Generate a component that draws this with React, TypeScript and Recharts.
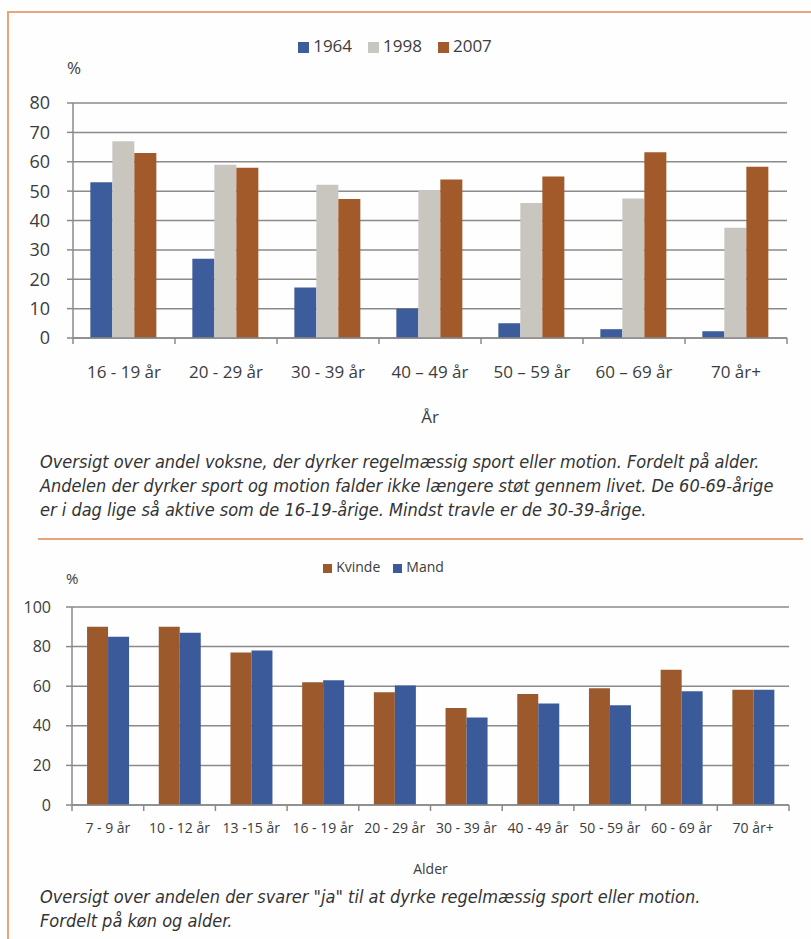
import React from "react";
import { BarChart, Bar, XAxis, YAxis, CartesianGrid, Legend } from "recharts";

// --- top chart: share of adults doing sport, by age and year
const ageGroups = ["16 - 19 år", "20 - 29 år", "30 - 39 år", "40 – 49 år", "50 – 59 år", "60 – 69 år", "70 år+"];
const values1964 = [53, 27, 17.2, 10, 5, 3, 2.3];
const values1998 = [67, 59, 52.2, 50.2, 46, 47.5, 37.5];
const values2007 = [63, 58, 47.3, 54, 55, 63.2, 58.3];
const topTicks = [0, 10, 20, 30, 40, 50, 60, 70, 80];

// --- bottom chart: answered "ja", by gender and age
const ageGroupsKids = ["7 - 9 år", "10 - 12 år", "13 -15 år", "16 - 19 år", "20 - 29 år", "30 - 39 år", "40 - 49 år", "50 - 59 år", "60 - 69 år", "70 år+"];
const kvinde = [90, 90, 77, 62, 57, 49, 56, 59, 68.3, 58.2];
const mand = [85, 87, 78, 63, 60.4, 44.2, 51.2, 50.4, 57.4, 58.2];
const bottomTicks = [0, 20, 40, 60, 80, 100];

const topData = ageGroups.map((name, i) => ({
  name,
  "1964": values1964[i],
  "1998": values1998[i],
  "2007": values2007[i],
}));

const bottomData = ageGroupsKids.map((name, i) => ({
  name,
  Kvinde: kvinde[i],
  Mand: mand[i],
}));

const AXIS = "#8a8a8a";
const TEXT = "#3c3c3c";
const FONT = "'Open Sans', 'Noto Sans', sans-serif";
const CAPTION_FONT = "'Liberation Sans Narrow', 'DejaVu Sans Condensed', 'DejaVu Sans', sans-serif";

// category tick: label in the middle, little tick marks on the band edges (Excel style)
function makeEdgeTick(fontSize: number, margin: number) {
  return function EdgeTick(props: any) {
    const { x, y, width, visibleTicksCount, index, payload } = props;
    const bw = width / visibleTicksCount;
    const axisY = y - margin;
    return (
      <g>
        <line x1={x - bw / 2} x2={x - bw / 2} y1={axisY} y2={axisY + 6} stroke={AXIS} strokeWidth={1.5} />
        {index === visibleTicksCount - 1 && (
          <line x1={x + bw / 2} x2={x + bw / 2} y1={axisY} y2={axisY + 6} stroke={AXIS} strokeWidth={1.5} />
        )}
        <text x={x} y={y} dy="0.71em" textAnchor="middle" fill={TEXT} fontSize={fontSize} fontFamily={FONT}>
          {payload.value}
        </text>
      </g>
    );
  };
}

const TopTick = makeEdgeTick(17, 28);
const BottomTick = makeEdgeTick(14, 18);

const topLegendText = (value: string) => <span style={{ color: TEXT, marginRight: 6 }}>{value}</span>;
const bottomLegendText = (value: string) => <span style={{ color: TEXT, marginRight: 3 }}>{value}</span>;

const captionStyle: React.CSSProperties = {
  position: "absolute",
  left: 40,
  fontFamily: CAPTION_FONT,
  fontStyle: "italic",
  fontSize: 18,
  lineHeight: "24px",
  color: "#333",
  whiteSpace: "nowrap",
};

export default function App() {
  return (
    <div style={{ position: "absolute", left: 0, top: 0, width: 811, height: 939, background: "#fefefe", overflow: "hidden" }}>
      {/* orange frame of the page */}
      <div style={{ position: "absolute", left: 8, top: 11, width: 803, height: 2, background: "#e8a57c" }} />
      <div style={{ position: "absolute", left: 7, top: 11, width: 2, height: 928, background: "#e8a57c" }} />
      <div style={{ position: "absolute", left: 38, top: 538, width: 765, height: 2, background: "#e8a57c" }} />

      {/* top chart */}
      <div style={{ position: "absolute", left: 67, top: 56, fontFamily: FONT, fontSize: 17, color: TEXT }}>%</div>
      <div style={{ position: "absolute", left: 0, top: 0 }}>
        <BarChart
          width={811}
          height={430}
          data={topData}
          margin={{ top: 103, right: 24, left: 0, bottom: 12 }}
          barCategoryGap="17%"
          barGap={0}
        >
          <CartesianGrid vertical={false} stroke={AXIS} strokeWidth={1.5} />
          <XAxis
            dataKey="name"
            interval={0}
            height={80}
            tickSize={0}
            tickMargin={28}
            tickLine={false}
            axisLine={{ stroke: AXIS, strokeWidth: 1.5 }}
            tick={TopTick}
            label={{ value: "År", position: "insideBottom", offset: -5, fill: TEXT, fontSize: 17, fontFamily: FONT }}
          />
          <YAxis
            width={73}
            domain={[0, 80]}
            ticks={topTicks}
            interval={0}
            tickSize={6}
            tickMargin={17}
            axisLine={{ stroke: AXIS, strokeWidth: 1.5 }}
            tickLine={{ stroke: AXIS, strokeWidth: 1.5 }}
            tick={{ fill: TEXT, fontSize: 18, fontFamily: FONT }}
          />
          <Legend
            verticalAlign="middle"
            align="center"
            iconType="square"
            iconSize={11}
            formatter={topLegendText}
            wrapperStyle={{ top: 34, left: 0, width: 806, fontFamily: FONT, fontSize: 17 }}
          />
          <Bar dataKey="1964" fill="#3d5c9b" isAnimationActive={false} />
          <Bar dataKey="1998" fill="#c9c6c0" isAnimationActive={false} />
          <Bar dataKey="2007" fill="#a25a2b" isAnimationActive={false} />
        </BarChart>
      </div>
      <div style={{ ...captionStyle, top: 450 }}>
        Oversigt over andel voksne, der dyrker regelmæssig sport eller motion. Fordelt på alder.
        <br />
        Andelen der dyrker sport og motion falder ikke længere støt gennem livet. De 60-69-årige
        <br />
        er i dag lige så aktive som de 16-19-årige. Mindst travle er de 30-39-årige.
      </div>

      {/* bottom chart */}
      <div style={{ position: "absolute", left: 66, top: 568, fontFamily: FONT, fontSize: 15, color: TEXT }}>%</div>
      <div style={{ position: "absolute", left: 0, top: 540 }}>
        <BarChart
          width={811}
          height={350}
          data={bottomData}
          margin={{ top: 67, right: 22, left: 0, bottom: 10 }}
          barCategoryGap="21%"
          barGap={0}
        >
          <CartesianGrid vertical={false} stroke={AXIS} strokeWidth={1.5} />
          <XAxis
            dataKey="name"
            interval={0}
            height={75}
            tickSize={0}
            tickMargin={18}
            tickLine={false}
            axisLine={{ stroke: AXIS, strokeWidth: 1.5 }}
            tick={BottomTick}
            label={{ value: "Alder", position: "insideBottom", offset: 6, fill: TEXT, fontSize: 14, fontFamily: FONT }}
          />
          <YAxis
            width={72}
            domain={[0, 100]}
            ticks={bottomTicks}
            interval={0}
            tickSize={6}
            tickMargin={15}
            axisLine={{ stroke: AXIS, strokeWidth: 1.5 }}
            tickLine={{ stroke: AXIS, strokeWidth: 1.5 }}
            tick={{ fill: TEXT, fontSize: 16, fontFamily: FONT }}
          />
          <Legend
            verticalAlign="middle"
            align="center"
            iconType="square"
            iconSize={9}
            formatter={bottomLegendText}
            wrapperStyle={{ top: 17, left: 0, width: 780, fontFamily: FONT, fontSize: 14 }}
          />
          <Bar dataKey="Kvinde" fill="#9c5a2c" isAnimationActive={false} />
          <Bar dataKey="Mand" fill="#3b5a9a" isAnimationActive={false} />
        </BarChart>
      </div>
      <div style={{ ...captionStyle, top: 885 }}>
        Oversigt over andelen der svarer "ja" til at dyrke regelmæssig sport eller motion.
        <br />
        Fordelt på køn og alder.
      </div>
    </div>
  );
}
